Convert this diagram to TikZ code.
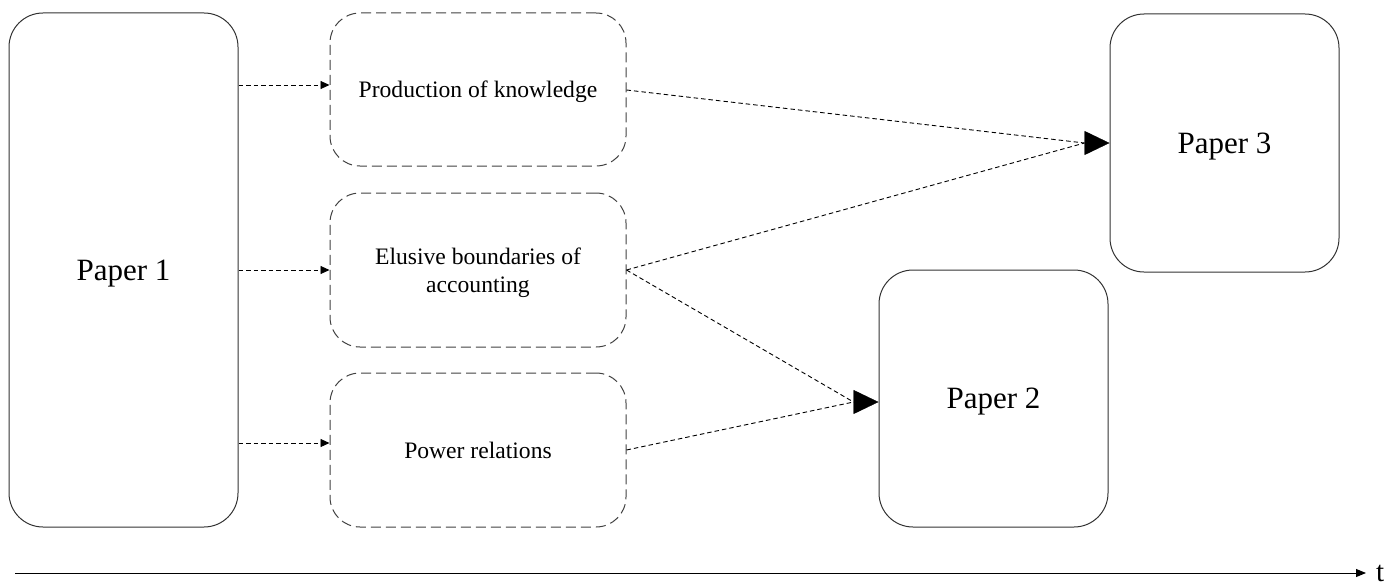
\documentclass[tikz,border=0pt]{standalone}
\usepackage{fontspec}
\setmainfont{Liberation Serif}
\usetikzlibrary{arrows.meta}
\begin{document}
\begin{tikzpicture}[x=1pt,y=-1pt,
  paper/.style={draw=black!80,line width=1pt,rounded corners=34pt,font=\fontsize{31}{34}\selectfont,align=center,inner sep=0pt,text depth=0pt},
  theme/.style={draw=black!75,line width=1pt,dash pattern=on 10pt off 5pt,rounded corners=30pt,font=\fontsize{23.6}{28.5}\selectfont,align=center,inner sep=0pt,text depth=0pt},
  link/.style={line width=0.9pt,dash pattern=on 4.5pt off 3pt},
  smalltip/.style={-{Triangle[length=9pt,width=8pt]}},
  bigtip/.style={-{Triangle[length=25pt,width=24pt]}}]
\useasboundingbox (0,0) rectangle (1396,586);
% papers
\node[paper,minimum width=229pt,minimum height=514pt] (p1) at (123.5,270) {Paper 1};
\node[paper,minimum width=229pt,minimum height=258pt] (p3) at (1224.5,143) {Paper 3};
\node[paper,minimum width=229pt,minimum height=257pt] (p2) at (993.5,398.5) {Paper 2};
% themes
\node[theme,minimum width=296pt,minimum height=153pt] (t1) at (478,89.5) {Production of knowledge};
\node[theme,minimum width=296pt,minimum height=154pt] (t2) at (478,270) {Elusive boundaries of\\accounting};
\node[theme,minimum width=296pt,minimum height=154pt] (t3) at (478,450) {Power relations};
% arrows from paper 1
\coordinate (s1) at (p1.east |- 0,85);
\coordinate (s2) at (p1.east |- 0,270);
\coordinate (s3) at (p1.east |- 0,443);
\draw[link,smalltip] (s1) -- (t1.west |- s1);
\draw[link,smalltip] (s2) -- (t2.west |- s2);
\draw[link,smalltip] (s3) -- (t3.west |- s3);
% converging links
\coordinate (in3) at ([xshift=-25pt]p3.west);
\coordinate (in2) at ([xshift=-25pt]p2.west |- 0,402);
\coordinate (e1) at (t1.east |- 0,90);
\draw[link] (e1) -- (in3);
\draw[link] (t2.east) -- (in3);
\draw[link] (t2.east) -- (in2);
\draw[link] (t3.east) -- (in2);
\draw[bigtip] (in3) -- (p3.west);
\draw[bigtip] (in2) -- (in2 -| p2.west);
% time axis
\coordinate (a0) at (15,573);
\coordinate (a1) at (1366,573);
\draw[line width=1pt,-{Triangle[length=10pt,width=8pt]}] (a0) -- (a1);
\node[font=\fontsize{29}{32}\selectfont,anchor=base west,inner sep=0pt] (tl) at (1376,581) {t};
\end{tikzpicture}
\end{document}
